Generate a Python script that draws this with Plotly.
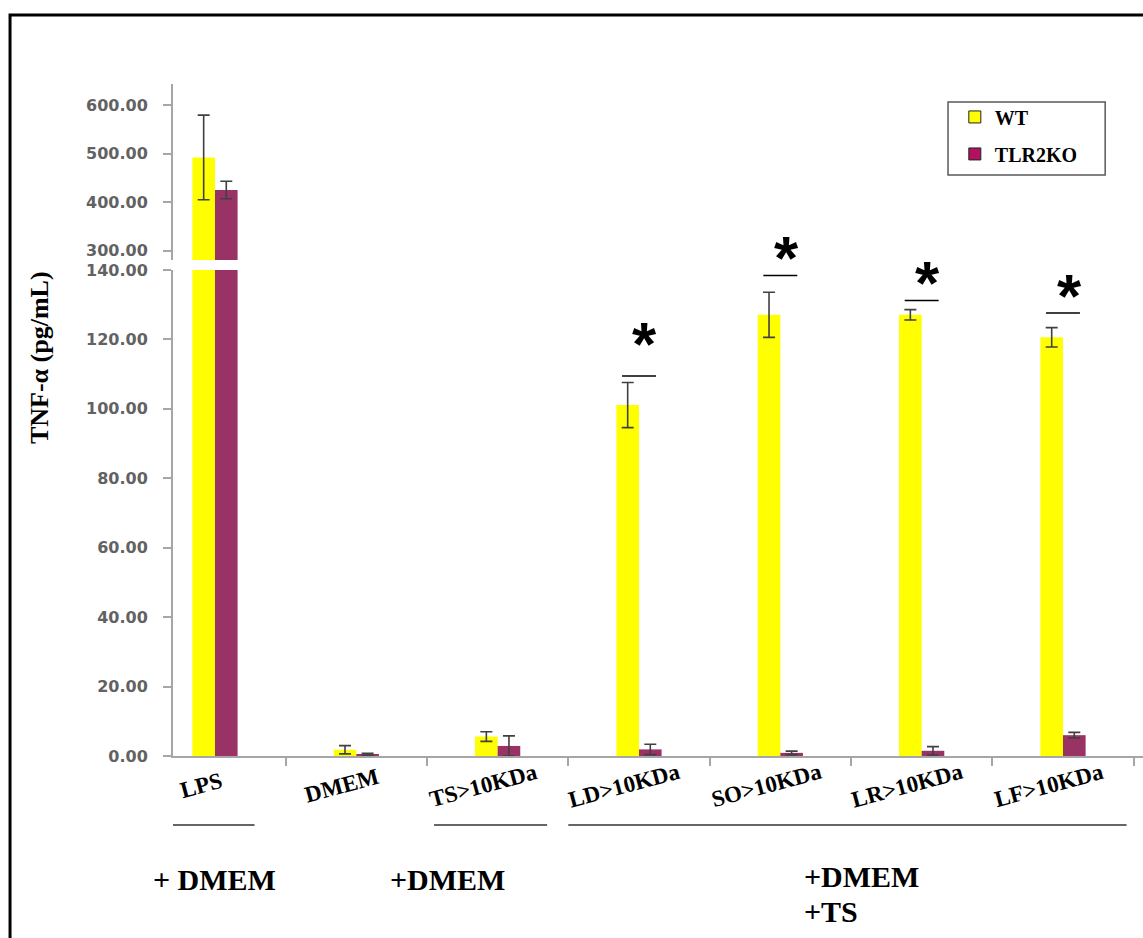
import plotly.graph_objects as go

# ---- data -----------------------------------------------------------------
categories = ["LPS", "DMEM", "TS>10KDa", "LD>10KDa", "SO>10KDa", "LR>10KDa", "LF>10KDa"]
wt_mean = [492.0, 1.8, 5.6, 101.1, 127.1, 127.1, 120.6]
wt_err = [87.0, 1.2, 1.4, 6.5, 6.5, 1.5, 2.8]
ko_mean = [425.0, 0.5, 2.9, 1.9, 0.9, 1.5, 6.0]
ko_err = [18.0, 0.3, 2.9, 1.5, 0.5, 1.2, 0.8]

series_names = ["WT", "TLR2KO"]

# significance markers (lower-axis units)
sig_categories = ["LD>10KDa", "SO>10KDa", "LR>10KDa", "LF>10KDa"]
sig_line_y = [109.5, 138.4, 131.2, 127.6]
sig_star_y = [121.6, 146.6, 139.2, 135.4]

lower_ticks = [0, 20, 40, 60, 80, 100, 120, 140]
upper_ticks = [300, 400, 500, 600]

# ---- styles ---------------------------------------------------------------
YELLOW = "#FFFF00"
PLUM = "#993366"
AXIS_GREY = "#A6A6A6"
TICK_FONT = dict(family="DejaVu Sans", size=16, color="#626262", weight="bold")
SERIF = "Liberation Serif, Times New Roman, serif"

LOWER_DOMAIN = [0, 0.7232]
LOWER_RANGE = [0, 140]

fig = go.Figure()

# bars drawn in both panels of the broken axis
for yax in ["y", "y2"]:
    fig.add_trace(go.Bar(
        x=categories, y=wt_mean, name=series_names[0], yaxis=yax, showlegend=False,
        marker=dict(color=YELLOW, line=dict(width=0)),
        error_y=dict(type="data", array=wt_err, color="#404040", thickness=1.6, width=6),
    ))
    fig.add_trace(go.Bar(
        x=categories, y=ko_mean, name=series_names[1], yaxis=yax, showlegend=False,
        marker=dict(color=PLUM, line=dict(width=0)),
        error_y=dict(type="data", array=ko_err, color="#404040", thickness=1.6, width=6),
    ))

# legend swatches
for nm, col, grp in [(series_names[0], YELLOW, "a"), (series_names[1], "#B0125F", "b")]:
    fig.add_trace(go.Scatter(
        x=[None], y=[None], mode="markers", name="<b>%s</b>" % nm, legendgroup=grp,
        marker=dict(symbol="square", size=12, color=col, line=dict(color="#222", width=1)),
    ))

n = len(categories)
fig.update_layout(
    width=1143, height=938,
    margin=dict(l=173, r=0, t=84, b=182),
    paper_bgcolor="white", plot_bgcolor="white",
    barmode="group", bargap=0.68, bargroupgap=0.0,
    showlegend=True,
    legend=dict(
        x=0.806, y=0.980, xanchor="left", yanchor="top",
        bgcolor="rgba(0,0,0,0)", borderwidth=0,
        traceorder="grouped", tracegroupgap=8, itemsizing="trace",
        font=dict(family=SERIF, size=20, color="black"),
    ),
    xaxis=dict(
        type="category", range=[-0.297, n - 1 + 0.566],
        showline=True, linecolor=AXIS_GREY, linewidth=2,
        ticks="outside", tickson="boundaries", ticklen=8, tickcolor=AXIS_GREY, tickwidth=1.5,
        showticklabels=False, showgrid=False, zeroline=False, anchor="y",
    ),
    yaxis=dict(
        domain=LOWER_DOMAIN, range=LOWER_RANGE,
        tickvals=lower_ticks, tickformat=".2f",
        showline=True, linecolor=AXIS_GREY, linewidth=2,
        ticks="outside", ticklen=8, tickcolor=AXIS_GREY, tickwidth=1.5,
        tickfont=TICK_FONT, ticklabelstandoff=12,
        showgrid=False, zeroline=False,
    ),
    yaxis2=dict(
        domain=[0.738, 1.0], range=[281, 643],
        tickvals=upper_ticks, tickformat=".2f",
        showline=True, linecolor=AXIS_GREY, linewidth=2,
        ticks="outside", ticklen=8, tickcolor=AXIS_GREY, tickwidth=1.5,
        tickfont=TICK_FONT, ticklabelstandoff=12,
        showgrid=False, zeroline=False, anchor="x",
    ),
)


def lower_to_paper(v):
    """Convert a value on the lower y axis into paper coordinates."""
    frac = (v - LOWER_RANGE[0]) / (LOWER_RANGE[1] - LOWER_RANGE[0])
    return LOWER_DOMAIN[0] + frac * (LOWER_DOMAIN[1] - LOWER_DOMAIN[0])


shapes = []
# outer frame
shapes.append(dict(type="rect", xref="paper", yref="paper",
                   x0=-0.168, x1=1.05, y0=-0.5, y1=1.1027,
                   line=dict(color="black", width=3), fillcolor="rgba(0,0,0,0)", layer="below"))
# legend box
shapes.append(dict(type="rect", xref="paper", yref="paper",
                   x0=0.799, x1=0.961, y0=0.8646, y1=0.9732,
                   line=dict(color="#5A5A5A", width=1.5), fillcolor="white"))
# significance lines
for cat, ly in zip(sig_categories, sig_line_y):
    i = categories.index(cat)
    shapes.append(dict(type="line", xref="x", yref="y",
                       x0=i - 0.12, x1=i + 0.12, y0=ly, y1=ly,
                       line=dict(color="black", width=1.5)))
# treatment group underlines
for a, b in [(-0.40, 0.28), (1.55, 2.35), (2.5, 6.45)]:
    shapes.append(dict(type="line", xref="x", yref="paper",
                       x0=a, x1=b, y0=-0.1027, y1=-0.1027,
                       line=dict(color="#333333", width=1.5)))
fig.update_layout(shapes=shapes)

annotations = []
# category labels
for cat in categories:
    annotations.append(dict(
        x=cat, xref="x", y=-0.0432, yref="paper", xshift=-14,
        text="<b>%s</b>" % cat.replace(">", "&gt;"), showarrow=False, textangle=-15,
        xanchor="center", yanchor="middle",
        font=dict(family=SERIF, size=23, color="black"),
    ))
# significance stars
for cat, sy in zip(sig_categories, sig_star_y):
    annotations.append(dict(
        x=cat, xref="x", y=lower_to_paper(sy), yref="paper", xshift=6, yshift=-10,
        text="<b>*</b>", showarrow=False, xanchor="center", yanchor="middle",
        font=dict(family="Liberation Sans", size=62, color="black"),
    ))
# y-axis title
annotations.append(dict(
    x=-0.137, xref="paper", y=0.5923, yref="paper",
    text="<b>TNF-α (pg/mL)</b>", showarrow=False, textangle=-90,
    xanchor="center", yanchor="middle",
    font=dict(family=SERIF, size=26, color="black"),
))
# treatment group texts
group_font = dict(family=SERIF, size=30, color="black")
annotations.append(dict(x=0, xref="x", y=-0.1845, yref="paper", text="<b>+ DMEM</b>",
                        showarrow=False, xanchor="center", yanchor="middle", font=group_font))
annotations.append(dict(x=2, xref="x", y=-0.1845, yref="paper", text="<b>+DMEM</b>", xshift=-50,
                        showarrow=False, xanchor="center", yanchor="middle", font=group_font))
annotations.append(dict(x=4.15, xref="x", y=-0.1800, yref="paper", text="<b>+DMEM</b>",
                        showarrow=False, xanchor="left", yanchor="middle", font=group_font))
annotations.append(dict(x=4.15, xref="x", y=-0.2321, yref="paper", text="<b>+TS</b>",
                        showarrow=False, xanchor="left", yanchor="middle", font=group_font))
fig.update_layout(annotations=annotations)

fig.write_html("out.html")
